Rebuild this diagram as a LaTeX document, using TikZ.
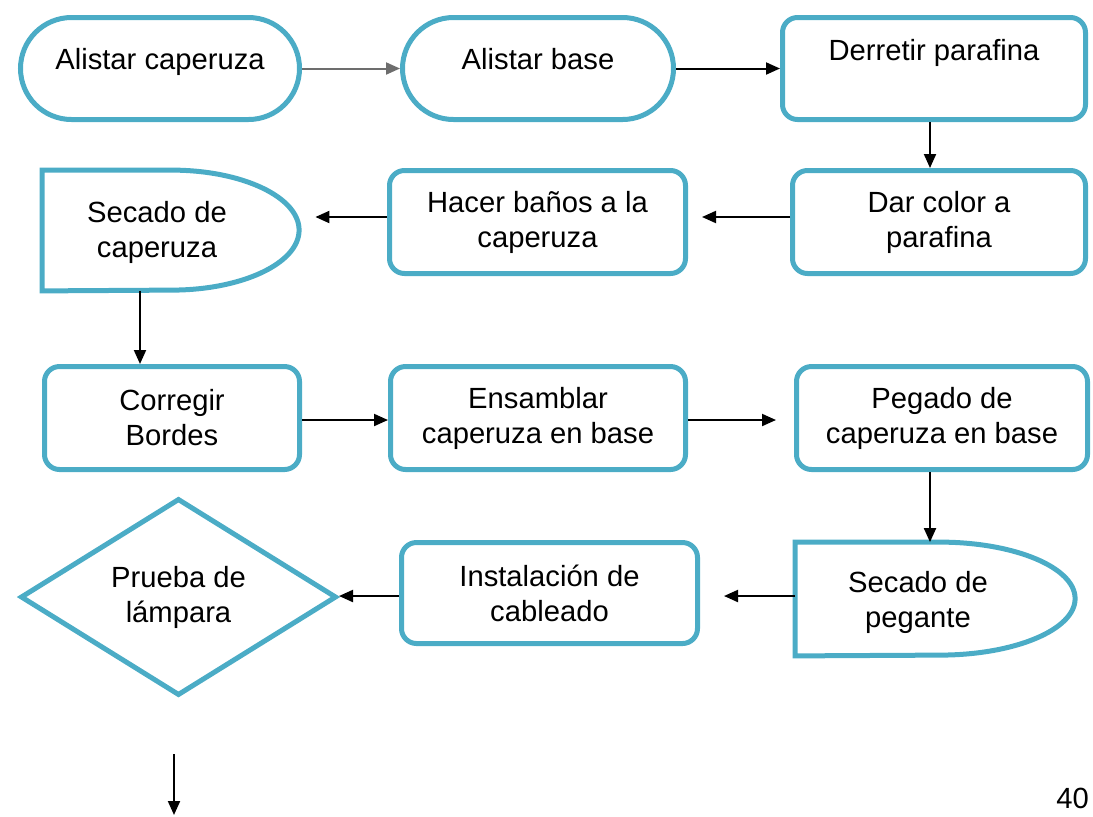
\documentclass[tikz,border=0pt]{standalone}
\usepackage{fontspec}
\setmainfont{Liberation Sans}
\usetikzlibrary{arrows.meta,shapes.geometric}
\definecolor{aqua}{HTML}{4BACC6}
\definecolor{greyline}{HTML}{6D6D6D}
\begin{document}
\begin{tikzpicture}[x=0.5pt, y=-0.5pt, font=\fontsize{14.6}{17.5}\selectfont,
  box/.style={shape=rectangle, draw=aqua, line width=2.5pt, rounded corners=7.5pt, align=center, minimum height=51.5pt},
  term/.style={box, rounded corners=25.5pt, minimum height=51pt},
  outline/.style={draw=aqua, line width=2.5pt},
  txt/.style={align=center, inner sep=0pt},
  arr/.style={-{Triangle[length=7pt,width=6pt]}, line width=1pt, draw=black}]
\useasboundingbox (0,0) rectangle (1093,816);
% row 1
\node[term, minimum width=139.5pt, text depth=10pt] (ac) at (160,68.5) {Alistar caperuza};
\node[term, minimum width=135.5pt, text depth=10pt] (ab) at (538,68.5) {Alistar base};
\node[box, minimum width=151.5pt, minimum height=51pt, text depth=19pt] (dp) at (934,68.5) {Derretir parafina};
% row 2
\node[box, minimum width=146.5pt] (dc) at (939,222) {Dar color a\\parafina};
\node[box, minimum width=148pt] (hb) at (537.5,222) {Hacer baños a la\\caperuza};
\node[shape=rectangle, minimum width=128.5pt, minimum height=60pt, inner sep=0pt] (sc) at (171,230.5) {};
\draw[outline] (sc.north west) -- ++(64.75pt,0) arc[start angle=90, end angle=-90, x radius=63.75pt, y radius=30pt] -- (sc.south west) -- cycle;
\node[txt] (sctext) at (157,232) {Secado de\\caperuza};
% row 3
\node[box, minimum width=127.5pt] (cb) at (172,418) {Corregir\\Bordes};
\node[box, minimum width=147.5pt] (en) at (538,418) {Ensamblar\\caperuza en base};
\node[box, minimum width=145.5pt] (pg) at (942,418) {Pegado de\\caperuza en base};
% row 4
\node[shape=rectangle, minimum width=140pt, minimum height=56.5pt, inner sep=0pt] (sp) at (935.5,599) {};
\draw[outline] (sp.north west) -- ++(72.25pt,0) arc[start angle=90, end angle=-90, x radius=67.75pt, y radius=28.25pt] -- (sp.south west) -- cycle;
\node[txt] (sptext) at (918,602) {Secado de\\pegante};
\node[box, minimum width=148pt, minimum height=50.5pt] (ic) at (549.5,593) {Instalación de\\cableado};
\node[shape=diamond, draw=aqua, line width=2.5pt, minimum width=158pt, minimum height=76pt, inner sep=0pt, align=center] (pl) at (178.5,597) {Prueba de\\lámpara};
\coordinate (out1) at (174,754);
\coordinate (out2) at (174,815);
\node[anchor=base west, inner sep=0pt] (pagenum) at (1056,808) {40};
% connectors
\path (ac) edge[arr, draw=greyline] (ab);
\path (ab) edge[arr] (dp);
\path ([xshift=-2pt]dp.south) edge[arr] ([xshift=-2pt]dp.south |- dc.north);
\path ([yshift=2.5pt]dc.west) edge[arr, shorten >=7pt] ([yshift=2.5pt]dc.west -| hb.east);
\path ([yshift=2.5pt]hb.west) edge[arr, shorten >=7.75pt] ([yshift=2.5pt]hb.west -| sc.east);
\path ([xshift=-15.5pt]sc.south) edge[arr] ([xshift=-15.5pt]sc.south |- cb.north);
\path ([yshift=-1pt]cb.east) edge[arr] ([yshift=-1pt]cb.east -| en.west);
\path ([yshift=-1pt]en.east) edge[arr, shorten >=9pt] ([yshift=-1pt]en.east -| pg.west);
\path ([xshift=-6pt]pg.south) edge[arr] ([xshift=-6pt]pg.south |- sp.north);
\path ([yshift=1.5pt]sp.west) edge[arr, shorten >=12pt] ([yshift=1.5pt]sp.west -| ic.east);
\path ([yshift=-1.5pt]ic.west) edge[arr] ([yshift=-1.5pt]ic.west -| pl.east);
\path (out1) edge[arr] (out2);
\end{tikzpicture}
\end{document}
